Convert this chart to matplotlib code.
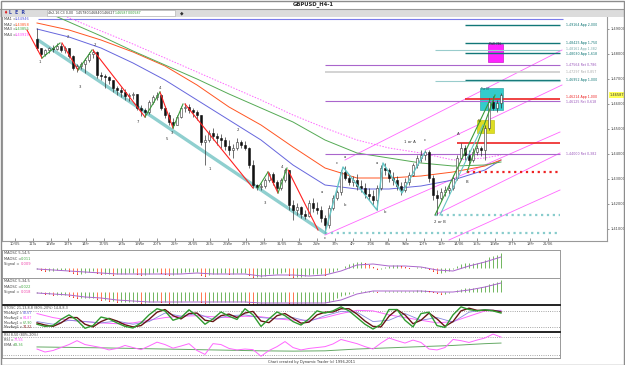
import numpy as np
import matplotlib
matplotlib.use("Agg")
import matplotlib.pyplot as plt
from matplotlib.patches import Rectangle

# ---------------- data ----------------
first_open = 1.4860
closes = [1.4824,1.4800,1.4816,1.4824,1.4820,1.4832,1.4816,1.4824,1.4792,1.4744,
          1.4752,1.4760,1.4776,1.4800,1.4808,1.4716,1.4712,1.4708,1.4696,1.4664,
          1.4656,1.4648,1.4632,1.4636,1.4640,1.4584,1.4576,1.4568,1.4608,1.4628,
          1.4636,1.4584,1.4556,1.4528,1.4516,1.4548,1.4584,1.4588,1.4576,1.4568,
          1.4556,1.4448,1.4456,1.4484,1.4472,1.4464,1.4456,1.4432,1.4416,1.4424,
          1.4448,1.4436,1.4424,1.4356,1.4276,1.4268,1.4272,1.4296,1.4320,1.4288,
          1.4264,1.4296,1.4336,1.4196,1.4176,1.4188,1.4160,1.4152,1.4204,1.4184,
          1.4176,1.4144,1.4116,1.4184,1.4224,1.4248,1.4328,1.4304,1.4288,1.4296,
          1.4272,1.4264,1.4240,1.4232,1.4216,1.4264,1.4344,1.4336,1.4304,1.4296,
          1.4272,1.4256,1.4288,1.4316,1.4356,1.4384,1.4396,1.4408,1.4304,1.4236,
          1.4224,1.4248,1.4256,1.4264,1.4304,1.4384,1.4424,1.4396,1.4376,1.4408,
          1.4424,1.4416,1.4504,1.4608,1.4584,1.4604,1.4636]
highs = [1.4904,1.4824,1.4820,1.4828,1.4836,1.4844,1.4844,1.4832,1.4824,1.4796,
         1.4760,1.4768,1.4784,1.4808,1.4820,1.4812,1.4728,1.4720,1.4712,1.4696,
         1.4672,1.4668,1.4660,1.4644,1.4648,1.4640,1.4596,1.4584,1.4616,1.4636,
         1.4648,1.4640,1.4592,1.4568,1.4544,1.4556,1.4592,1.4604,1.4600,1.4584,
         1.4576,1.4556,1.4476,1.4496,1.4504,1.4484,1.4480,1.4468,1.4456,1.4440,
         1.4464,1.4456,1.4452,1.4428,1.4376,1.4280,1.4284,1.4304,1.4328,1.4328,
         1.4296,1.4304,1.4344,1.4336,1.4216,1.4204,1.4192,1.4176,1.4216,1.4224,
         1.4208,1.4192,1.4156,1.4196,1.4236,1.4256,1.4336,1.4352,1.4316,1.4312,
         1.4320,1.4296,1.4284,1.4264,1.4256,1.4276,1.4356,1.4364,1.4344,1.4328,
         1.4312,1.4288,1.4304,1.4328,1.4364,1.4396,1.4416,1.4416,1.4416,1.4316,
         1.4256,1.4264,1.4272,1.4280,1.4316,1.4396,1.4444,1.4436,1.4416,1.4424,
         1.4436,1.4432,1.4516,1.4624,1.4632,1.4616,1.4644]
lows = [1.4816,1.4784,1.4792,1.4804,1.4808,1.4816,1.4808,1.4804,1.4784,1.4736,
        1.4728,1.4740,1.4724,1.4768,1.4784,1.4704,1.4696,1.4664,1.4680,1.4648,
        1.4636,1.4628,1.4616,1.4612,1.4620,1.4576,1.4552,1.4548,1.4560,1.4600,
        1.4616,1.4576,1.4544,1.4516,1.4504,1.4516,1.4544,1.4568,1.4564,1.4548,
        1.4536,1.4436,1.4356,1.4448,1.4456,1.4436,1.4424,1.4416,1.4396,1.4384,
        1.4416,1.4424,1.4416,1.4344,1.4264,1.4256,1.4256,1.4264,1.4288,1.4276,
        1.4248,1.4256,1.4288,1.4176,1.4136,1.4156,1.4144,1.4140,1.4148,1.4168,
        1.4160,1.4128,1.4084,1.4104,1.4176,1.4216,1.4236,1.4296,1.4276,1.4272,
        1.4256,1.4248,1.4224,1.4216,1.4196,1.4176,1.4256,1.4316,1.4288,1.4276,
        1.4256,1.4236,1.4248,1.4276,1.4312,1.4344,1.4368,1.4376,1.4288,1.4216,
        1.4156,1.4216,1.4232,1.4240,1.4256,1.4296,1.4376,1.4376,1.4356,1.4368,
        1.4396,1.4392,1.4376,1.4496,1.4576,1.4568,1.4584]

ma_idx = [0, 8, 16, 24, 32, 40, 48, 56, 64, 72, 80, 88, 96, 104, 112, 116]
ma1 = [1.4900,1.4868,1.4824,1.4764,1.4696,1.4616,1.4536,1.4456,1.4356,1.4276,1.4260,1.4260,1.4272,1.4296,1.4336,1.4376]
ma2 = [1.4924,1.4896,1.4856,1.4808,1.4752,1.4676,1.4588,1.4516,1.4428,1.4344,1.4304,1.4304,1.4312,1.4328,1.4352,1.4376]
ma3_idx = [4, 8, 16, 24, 32, 40, 48, 56, 64, 72, 80, 88, 96, 104, 112, 116]
ma3 = [1.4956,1.4928,1.4872,1.4812,1.4756,1.4700,1.4640,1.4584,1.4528,1.4456,1.4404,1.4384,1.4364,1.4352,1.4356,1.4368]
ma4_idx = [7.5, 16, 24, 32, 40, 48, 56, 64, 72, 80, 88, 96, 104, 112, 116]
ma4 = [1.4948,1.4892,1.4840,1.4784,1.4728,1.4672,1.4616,1.4556,1.4504,1.4456,1.4424,1.4404,1.4376,1.4384,1.4396]

level_prices = [1.49164,1.48425,1.48161,1.48030,1.47564,1.47297,1.46952,1.46214,1.46125,1.44000,1.4444,1.4328,1.4156,1.4084,1.4692]
level_starts = [107,107,99.5,107,72,72,107,107,72,72,105,107.5,99.5,72,99.5]
level_names = ["App 2,000","App 1,750","App 1,382","App 1,618","Ret 0,786","Ret 0,857",
               "App 1,000","App 1,000","Ret 0,618","Ret 0,382","","","","",""]

red_segs = [(-2.5,1.4896,1.25,1.4784),(6.25,1.4844,10.25,1.4736),(14,1.4816,27,1.4548),
            (30.75,1.4648,34,1.4504),(37,1.4600,54,1.4264),(57.75,1.4328,60.25,1.4244),
            (62.75,1.4336,70.25,1.4096)]
green_segs = [(1.25,1.4784,5.75,1.4844),(10.25,1.4736,13.75,1.4816),(27,1.4548,30.75,1.4648),
              (34,1.4504,36.5,1.4600),(55.25,1.4264,57.75,1.4328),(60.25,1.4244,62.5,1.4344),
              (99.5,1.4156,113.25,1.4616),(107.5,1.4328,114.5,1.4636)]
cyan_path_x = [72, 76.5, 85, 86.5, 91.25, 97]
cyan_path_y = [1.4084, 1.4348, 1.4176, 1.4364, 1.4244, 1.4408]
cyan_segs = [(100.75,1.4156,111.5,1.4516)]
trend_seg = (0.25, 1.4856, 72, 1.4084)
pink_segs = [(77,1.4376,131.25,1.4816),(97,1.4416,131.25,1.4676),(72,1.4076,130.75,1.4488),
             (99.5,1.4156,130.75,1.4404),(103,1.4056,130.75,1.4256)]

wave_text = ["1","2","3","2","4","7","5","3","1","2","3","4","c","a","c","a","b","a","b",
             "1 or A","c","2 or B","A","B"]
wave_x = [0.75,7.75,10.75,14.5,30.75,25.25,32.5,33.75,43.25,50.25,57,61.25,72,71.25,75,77,77,85,87,
          93.25,97,100.75,105.25,107.5]
wave_y = [1.4768,1.4868,1.4668,1.4836,1.4664,1.4528,1.4460,1.4484,1.4340,1.4496,1.4204,1.4348,1.4064,
          1.4248,1.4364,1.4388,1.4196,1.4364,1.4168,1.4448,1.4456,1.4128,1.4480,1.4288]

date_labels = ["10/05","11Tu","12We","13Th","14Fr","17/05","18Tu","19We","20Th","21Fr",
               "24/05","25Tu","26We","27Th","28Fr","31/05","1Tu","2We","3Th","4Fr",
               "7/06","8Tu","9We","10Th","11Fr","14/06","15Tu","16We","17Th","18Fr","21/06"]
price_ticks = [1.41, 1.42, 1.43, 1.44, 1.45, 1.46, 1.47, 1.48, 1.49]

maosc1 = [-1,-2,-3,-3,-3,-2,-2,-2,-3,-5,
          -6,-6,-5,-4,-3,-5,-6,-6,-6,-7,
          -6,-6,-6,-5,-5,-6,-7,-7,-6,-5,
          -4,-5,-6,-7,-7,-6,-5,-4,-4,-4,
          -4,-7,-8,-7,-6,-6,-5,-5,-6,-6,
          -5,-5,-5,-7,-9,-9,-9,-8,-6,-6,
          -6,-5,-4,-7,-9,-9,-9,-8,-7,-6,
          -6,-6,-7,-5,-4,-2,0,2,4,5,
          6,6,5,3,1,-1,-1,1,2,3,
          3,2,1,0,0,1,1,1,-1,-3,
          -5,-5,-4,-3,-1,2,4,5,5,5,
          5,6,8,11,12,13,15]
signal1 = [-1,-2,-3,-4,-5,-6,-6,-6,-6,-6,-5,-6,-6,-6,-8,-7,-7,-8,-7,-3,3,4,2,2,1,-2,-3,2,6,11]
maosc2 = [-1,-1,-2,-2,-3,-3,-3,-3,-4,-5,
          -6,-6,-6,-6,-6,-7,-8,-8,-9,-9,
          -10,-10,-10,-10,-10,-10,-11,-11,-10,-10,
          -9,-10,-10,-11,-11,-11,-10,-9,-9,-9,
          -9,-10,-11,-11,-10,-10,-10,-10,-10,-10,
          -10,-10,-10,-11,-12,-12,-12,-12,-11,-11,
          -11,-10,-10,-11,-12,-12,-12,-12,-11,-11,
          -11,-11,-11,-10,-8,-6,-4,-3,-2,-1,
          0,1,1,1,1,0,0,1,1,1,
          1,1,1,1,1,2,2,2,1,0,
          -1,-2,-2,-1,0,2,3,4,4,4,
          4,5,6,8,9,10,12]
signal2 = [-1,-2,-3,-5,-6,-8,-9,-10,-10,-10,-10,-10,-10,-10,-11,-11,-11,-11,-11,-8,-2,1,1,1,1,0,0,2,5,9]

stoch_k = [30,22,25,48,65,45,15,25,57,50,
           35,22,16,35,65,88,80,45,55,84,
           60,30,50,76,60,48,88,65,22,50,
           76,62,40,27,50,80,72,80,95,80,
           55,30,12,30,85,85,45,20,70,75,
           25,18,65,95,85,80,84,80,72]
stoch_d = [35,27,22,35,55,55,30,20,40,52,
           42,28,20,25,48,75,85,62,50,70,
           72,45,40,62,68,55,72,78,42,36,
           62,70,52,34,38,65,75,76,88,88,
           68,42,22,20,60,85,65,32,45,72,
           50,22,40,80,90,82,82,82,76]
stoch_blue = [40,30,45,40,35,42,30,40,72,60,70,48,62,65,55,50,55,40,62,78,75,40,45,70,45,55,38,75,85,80]
stoch_pink = [70,55,45,40,35,32,35,45,55,60,62,58,55,60,58,50,45,45,55,70,82,80,65,55,45,35,40,60,80,82]

rsi = [40,30,35,45,55,68,55,50,45,37,
       42,52,45,38,50,63,55,43,50,58,
       35,22,58,55,42,37,40,38,16,35,
       48,65,45,37,42,45,48,57,72,65,
       58,48,40,60,77,68,60,70,62,40,
       37,45,72,68,62,70,77,90,80]
ema_idx = [0, 16, 32, 48, 56, 64, 72, 80, 88, 96, 104, 112, 116]
ema = [47, 44, 40, 36, 34, 33, 34, 40, 44, 48, 52, 58, 60]

# ---------------- figure ----------------
W, H = 625, 365
fig = plt.figure(figsize=(W / 100, H / 100), dpi=100)
fig.patch.set_facecolor("white")
FONT = "DejaVu Sans"


def box(x0, y0, x1, y1):
    return fig.add_axes([x0 / W, 1 - y1 / H, (x1 - x0) / W, (y1 - y0) / H])


def ftext(x, y, s, **kw):
    kw.setdefault("fontsize", 2.8)
    kw.setdefault("va", "center")
    kw.setdefault("family", FONT)
    fig.text(x / W, 1 - y / H, s, **kw)


# window chrome
fig.patches.append(Rectangle((0, 1 - 16.5 / H), 1, 7.5 / H, transform=fig.transFigure,
                             facecolor="#dcdcdc", edgecolor="none", zorder=0))
fig.patches.append(Rectangle((0.5 / W, 0.5 / H), 1 - 1.5 / W, 1 - 1.5 / H, transform=fig.transFigure,
                             facecolor="none", edgecolor="#8c8c8c", lw=1.0, zorder=10))
fig.lines.append(plt.Line2D([0, 1], [1 - 9 / H, 1 - 9 / H], transform=fig.transFigure,
                            color="#999999", lw=0.8))
ftext(313, 4.5, "GBPUSD_H4-1", fontsize=3.8, ha="center", weight="bold", color="#222222")
fig.patches.append(Rectangle((47 / W, 1 - 15.5 / H), 128 / W, 5 / H, transform=fig.transFigure,
                             facecolor="white", edgecolor="#aaaaaa", lw=0.4, zorder=1))
ftext(3, 13, "\u2666", fontsize=3.3, color="#dd2222")
ftext(9, 13, "L  E  R", fontsize=3.3, color="#3344aa", weight="bold")
ftext(48.5, 13, "4h2-16 C3 0,00", fontsize=2.3, color="#333333")
for xx, s, col in [(76, "1,45780", "#333333"), (89, "1,46840", "#333333"), (102, "1,46627", "#333333"),
                   (115, "1,46587", "#339933"), (128, "0,00587", "#339933")]:
    ftext(xx, 13, s, fontsize=2.3, color=col)
ftext(180, 13, "\u25c6", fontsize=3.3, color="#333333")

# ---------------- main price panel ----------------
XMIN, XMAX, XSUB = -8.75, 142.5, 130.75
ax = box(2, 17, 607, 241)
ax.set_xlim(XMIN, XMAX)
ax.set_ylim(1.4052, 1.4948)

n = len(closes)
x = np.arange(n)
c = np.array(closes)
o = np.array([first_open] + closes[:-1])
h = np.array(highs)
l = np.array(lows)

# trend line & annotations
ax.plot([trend_seg[0], trend_seg[2]], [trend_seg[1], trend_seg[3]], color="#8fcfcf", lw=2.4,
        solid_capstyle="round", zorder=2)
for seg in pink_segs:
    ax.plot([seg[0], seg[2]], [seg[1], seg[3]], color="#ff66ff", lw=0.6, zorder=2)
ax.add_patch(Rectangle((112.75, 1.4768), 3.75, 0.0072, facecolor="#ff22ff", edgecolor="#bb00bb",
                       lw=0.4, zorder=2))
ax.add_patch(Rectangle((110.75, 1.4576), 5.75, 0.0088, facecolor="#33cccc", edgecolor="#229999",
                       lw=0.4, zorder=2))
ax.add_patch(Rectangle((110, 1.4484), 4.25, 0.0052, facecolor="#dddd22", edgecolor="#bbbb00",
                       lw=0.4, zorder=2))
ax.text(113.0, 1.4834, "PhiR 786", fontsize=2.0, color="#550055", family=FONT, zorder=6)
ax.text(111.0, 1.4656, "Tsc 07", fontsize=2.0, color="#115555", family=FONT, zorder=6)
ax.text(110.2, 1.4528, "Ms", fontsize=2.0, color="#555500", family=FONT, zorder=6)

# moving averages
ax.hlines(1.4940, 0.25, 131.5, color="#7b7bea", lw=0.8, zorder=2)
ax.plot(ma_idx, ma1, color="#6666dd", lw=0.7, zorder=2)
ax.plot(ma_idx, ma2, color="#ff5522", lw=0.7, zorder=2)
ax.plot(ma3_idx, ma3, color="#55aa55", lw=0.7, zorder=2)
ax.plot(ma4_idx, ma4, color="#ff66ff", lw=0.7, ls=(0, (1.5, 1.5)), zorder=2)

# horizontal levels
lvl_style = [("#117777", "-", 1.0), ("#117777", "-", 1.0), ("#99cccc", "-", 0.8), ("#117777", "-", 1.0),
             ("#aa66cc", "-", 0.8), ("#d0d0d0", "-", 1.3), ("#117777", "-", 1.0), ("#ee2222", "-", 1.2),
             ("#aa66cc", "-", 0.8), ("#aa66cc", "-", 0.8), ("#ee2222", "-", 1.2), ("#ee2222", ":", 1.6),
             ("#88cccc", ":", 1.6), ("#88cccc", ":", 1.6), ("#99cccc", "-", 0.8)]
lbl_col = ["#117777", "#117777", "#77aaaa", "#117777", "#9955bb", "#aaaaaa", "#117777", "#ee2222",
           "#9955bb", "#9955bb"]
lbl_nudge = [0, 0, 0.0005, -0.0004, 0, 0, 0, 0.0005, -0.0004, 0]
for k, (p, s0, nm) in enumerate(zip(level_prices, level_starts, level_names)):
    col, ls, lw = lvl_style[k]
    ax.hlines(p, s0, XSUB, color=col, ls=ls, lw=lw, zorder=3)
    if nm:
        ax.text(132.3, p + lbl_nudge[k], f"{p:.5f}".replace(".", ",") + " " + nm, fontsize=2.3,
                color=lbl_col[k], va="center", family=FONT, zorder=6)

# zigzags
for seg in red_segs:
    ax.plot([seg[0], seg[2]], [seg[1], seg[3]], color="#ff2020", lw=0.8, zorder=5)
for seg in green_segs:
    ax.plot([seg[0], seg[2]], [seg[1], seg[3]], color="#3a9a3a", lw=0.8, zorder=5)
ax.plot(cyan_path_x, cyan_path_y, color="#66c4c4", lw=1.0, zorder=5)
for seg in cyan_segs:
    ax.plot([seg[0], seg[2]], [seg[1], seg[3]], color="#66c4c4", lw=0.8, zorder=5)

# candles
ax.vlines(x, l, h, color="#333333", lw=0.5, zorder=4)
up = c >= o
body = np.maximum(np.abs(c - o), 0.00015)
ax.bar(x[up], body[up], bottom=o[up], width=0.62, facecolor="white", edgecolor="#333333",
       lw=0.4, zorder=4)
ax.bar(x[~up], body[~up], bottom=c[~up], width=0.62, facecolor="#111111", edgecolor="#111111",
       lw=0.4, zorder=4)

for t, xx, yy in zip(wave_text, wave_x, wave_y):
    ax.text(xx, yy, t, fontsize=2.8, ha="center", va="center", color="#333333", family=FONT, zorder=6)

# MA legend
for k, (nm, val, col) in enumerate([("MA1 =", "1,44946", "#5555dd"), ("MA2 =", "1,43858", "#ff5522"),
                                    ("MA3 =", "1,43855", "#44aa44"), ("MA4 =", "1,43919", "#ff44ff")]):
    ftext(3.5, 19.5 + 5 * k, nm, fontsize=2.6, color="#444444")
    ftext(14.5, 19.5 + 5 * k, val, fontsize=2.6, color=col)

# axes styling
ax.yaxis.tick_right()
ax.set_yticks(price_ticks)
ax.set_yticklabels([f"{p:.5f}".replace(".", ",") for p in price_ticks])
ax.tick_params(axis="y", labelsize=2.6, length=1.5, width=0.4, pad=1, colors="#444444", direction="out")
ax.set_xticks(np.linspace(-5.5, 127.75, len(date_labels)))
ax.set_xticklabels(date_labels)
ax.tick_params(axis="x", labelsize=2.6, length=2, width=0.4, pad=1, colors="#444444", direction="in")
for sp in ["left", "right", "bottom"]:
    ax.spines[sp].set_color("#999999")
    ax.spines[sp].set_linewidth(0.8)
ax.spines["top"].set_visible(False)
ax.text(1.004, c[-1], "1,46587", transform=ax.get_yaxis_transform(), fontsize=2.5,
        va="center", ha="left", family=FONT, color="#333333",
        bbox=dict(facecolor="#ffff55", edgecolor="none", pad=0.4), zorder=7)


# ---------------- sub panels ----------------
def sub(y0, y1, ylo, yhi, topcol="#999999", toplw=0.7):
    a = box(2, y0, 560, y1)
    a.set_xlim(XMIN, XSUB)
    a.set_ylim(ylo, yhi)
    a.set_xticks([])
    a.set_yticks([])
    for sp in a.spines.values():
        sp.set_color("#999999")
        sp.set_linewidth(0.7)
    a.spines["top"].set_color(topcol)
    a.spines["top"].set_linewidth(toplw)
    return a


def hist(a, vals):
    v = np.array(vals)
    prev = np.concatenate([[v[0]], v[:-1]])
    cols = np.where(v >= prev, "#5aaa44", "#ff6030")
    a.vlines(x, 0, v, colors=cols, lw=0.6)
    a.scatter(x[v < prev], v[v < prev], s=0.6, color="#ee2222", zorder=3, linewidths=0)


sig_x = np.arange(0, n, 4)
half_x = np.arange(0, n, 2)

a1 = sub(250, 278, -10, 18)
hist(a1, maosc1)
a1.plot(sig_x, signal1, color="#aa66cc", lw=0.7)
ftext(3.5, 253, "MAOSC 5,14,5", fontsize=2.6, color="#444444")
ftext(3.5, 258.5, "MAOSC =", fontsize=2.6, color="#444444")
ftext(20.5, 258.5, "0,011", fontsize=2.6, color="#44aa44")
ftext(3.5, 264, "Signal =", fontsize=2.6, color="#444444")
ftext(20.5, 264, "0,009", fontsize=2.6, color="#ee44aa")

a2 = sub(278, 305, -13, 14)
hist(a2, maosc2)
a2.plot(sig_x, signal2, color="#aa66cc", lw=0.7)
ftext(3.5, 281, "MAOSC 5,34,5", fontsize=2.6, color="#444444")
ftext(3.5, 286.5, "MAOSC =", fontsize=2.6, color="#444444")
ftext(20.5, 286.5, "0,022", fontsize=2.6, color="#44aa44")
ftext(3.5, 292, "Signal =", fontsize=2.6, color="#444444")
ftext(20.5, 292, "0,018", fontsize=2.6, color="#ee44aa")

a3 = sub(305, 332, 1, 102, topcol="#111111", toplw=1.3)
a3.axhline(80, color="#888888", ls=":", lw=0.6)
a3.axhline(20, color="#888888", ls=":", lw=0.6)
a3.plot(sig_x, stoch_pink, color="#ff66ff", lw=0.7)
a3.plot(sig_x, stoch_blue, color="#8888dd", lw=0.6)
a3.plot(half_x, stoch_d, color="#661515", lw=1.0)
a3.plot(half_x, stoch_k, color="#2f9a2f", lw=1.0)
ftext(3.5, 308.3, "STOSC 21,13,8,8 (80%-20%) 14,8,8,3", fontsize=2.4, color="#444444")
for k, (nm, val, col) in enumerate([("MovAvg1 =", "82,67", "#5555dd"), ("MovAvg2 =", "84,87", "#ff44ff"),
                                    ("MovAvg1 =", "67,90", "#44aa44"), ("MovAvg2 =", "74,32", "#882222")]):
    ftext(3.5, 313 + 4.8 * k, nm, fontsize=2.3, color="#444444")
    ftext(22.5, 313 + 4.8 * k, val, fontsize=2.3, color=col)

a4 = sub(332, 358, 10, 97, topcol="#111111", toplw=1.3)
a4.axhline(80, color="#888888", ls=":", lw=0.6)
a4.axhline(20, color="#888888", ls=":", lw=0.6)
a4.plot(ema_idx, ema, color="#66aa66", lw=0.7)
a4.plot(half_x, rsi, color="#ff66ff", lw=0.7)
ftext(3.5, 335, "RSI 8,50 (80%-20%)", fontsize=2.4, color="#444444")
ftext(3.5, 339.8, "RSI =", fontsize=2.4, color="#444444")
ftext(13.5, 339.8, "77,55", fontsize=2.4, color="#ff44ff")
ftext(3.5, 344.6, "EMA =", fontsize=2.4, color="#444444")
ftext(13.5, 344.6, "58,36", fontsize=2.4, color="#44aa44")

ftext(312, 361.5, "Chart created by Dynamic Trader (c) 1996-2011", fontsize=2.6, ha="center",
      color="#333333")

fig.savefig("out.png", dpi=100, facecolor="white")
